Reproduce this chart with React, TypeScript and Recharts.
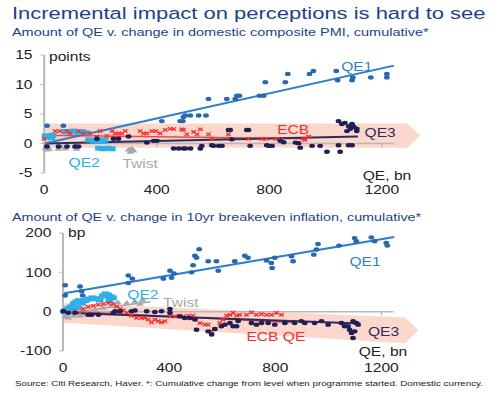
import React from "react"
import {
  ScatterChart,
  Scatter,
  XAxis,
  YAxis,
  ReferenceArea,
  ReferenceLine,
  ReferenceDot,
} from "recharts"

// the reference image is stretched sideways, so the whole page is laid out
// narrower and widened with scaleX
const STRETCH = 1.3
const PAGE_W = 385

const FONT = '"Liberation Sans", Arial, sans-serif'

const xTicks = [0, 400, 800, 1200]
const xDomain = [0, 1340]
const xAxisEnd = 1245

// ---- PMI panel ----
const pmiTicks = [-5, 0, 5, 10, 15]
const pmiQe1 = [
  [10, 3.0], [68, 3.0], [418, 3.8], [483, 3.8], [493, 3.8], [495, 4.5], [501, 4.75],
  [519, 4.75], [549, 4.75], [575, 4.75], [584, 7.55], [649, 7.55], [679, 7.55],
  [685, 8.1], [694, 8.1], [765, 8.1], [780, 8.1], [786, 10.4], [857, 10.4],
  [866, 11.8], [943, 11.8], [957, 12.3], [1038, 12.3], [1043, 10.7], [1094, 10.7],
  [1097, 11.2], [1161, 11.2], [1218, 11.8], [1218, 11.2],
]
const pmiQe1Line = [[0, 0], [1243, 13.2]]
const pmiQe3 = [
  [10, -0.5], [51, -0.5], [81, -0.5], [110, -0.5], [122, -0.5], [187, 0.8], [246, 0.8],
  [264, 0.8], [300, 1.2], [365, 0.15], [389, 0.45], [401, 0.45], [460, -0.85],
  [478, -0.85], [495, -0.85], [502, -0.85], [520, -0.85], [555, -0.85], [560, -0.4],
  [596, -0.3], [602, -0.4], [620, -0.4], [632, -0.4], [655, 2.3], [661, 2.3], [667, 0.7],
  [720, 2.3], [726, 2.3], [732, -0.4], [791, -0.3], [798, -0.4], [810, -0.4],
  [839, 0.45], [851, 0.2], [893, 0.15], [904, 0.05], [910, -0.7], [952, -0.4],
  [981, -0.4], [1005, -1.4], [1046, -0.3], [1052, -1.4], [1082, -0.3], [1094, -0.3],
  [1046, 3.8], [1058, 3.3], [1069, 3.5], [1082, 2.95], [1088, 2.5], [1094, 3.3],
  [1100, 2.85], [1111, 2.5], [1111, 2.1], [1076, 2.1],
]
const pmiQe3Line = [[0, 0], [1115, 1.2]]
const pmiEcb = [
  [0, 0.8], [39, 2.1], [55, 2.1], [81, 2.1], [92, 1.7], [122, 2.1], [140, 1.7],
  [161, 1.7], [187, 1.15], [199, 2.1], [223, 1.3], [241, 2.1], [252, 1.7], [264, 1.7],
  [276, 1.7], [288, 2.1], [341, 2.1], [353, 1.7], [365, 1.7], [383, 2.1], [397, 2.1],
  [412, 1.7], [430, 2.3], [448, 2.5], [460, 2.45], [489, 2.4], [495, 2.3], [507, 1.55],
  [531, 1.95], [543, 1.55], [555, 2.4], [584, 1.55], [596, 0.8], [655, 1.55], [661, 0.8],
  [726, 0.8], [774, 0.8], [791, 0.8], [821, 0.8], [839, 0.6], [922, 0.8], [927, 0.6],
  [940, 1.15],
]
const pmiEcbLine = [[0, 1.4], [935, 0.8]]
const pmiQe2 = [
  [5, 1.3], [15, 1.2], [25, 1.0], [30, 1.4], [75, 2.0], [90, 2.0], [105, 2.1],
  [120, 1.9], [135, 2.0], [150, 1.8], [160, 0.6], [175, 0.5], [190, 0.4], [205, 0.4],
  [215, 0.6], [195, -0.8], [210, -0.9], [225, -0.8], [240, -0.9],
]
const pmiTwist = [
  [4, -0.7], [10, -1.0], [18, -0.9], [50, -0.9], [60, -0.5], [75, -0.85], [110, -0.5],
  [115, -0.9], [156, 0.7], [199, 0.8], [215, 0.7], [300, -1.0], [306, -1.4],
  [311, -0.9], [318, -1.2],
]
const pmiBand = [[0, 3.4], [1290, 3.4], [1337, 1.35], [1290, -0.7], [0, -0.7]]

// ---- breakeven panel ----
const beTicks = [-100, -50, 0, 50, 100, 150, 200]
const beQe1 = [
  [8, 67], [8, 41], [64, 64], [70, 52], [74, 41], [246, 92], [246, 73], [261, 84],
  [378, 84], [403, 104], [409, 86], [418, 97], [484, 100], [490, 118], [497, 142],
  [503, 137], [513, 159], [547, 128], [578, 128], [585, 104], [647, 128], [685, 142],
  [697, 137], [767, 130], [785, 124], [788, 111], [798, 137], [861, 141], [867, 128],
  [945, 145], [955, 158], [961, 172], [1040, 168], [1099, 187], [1105, 179],
  [1162, 189], [1174, 179], [1218, 175], [1222, 168],
]
const beQe1Line = [[0, 46], [1248, 190]]
const beQe2 = [
  [5, 0], [12, 3], [20, 8], [30, 12], [40, 20], [50, 25], [60, 28], [72, 22], [85, 28],
  [95, 32], [110, 35], [125, 33], [138, 30], [150, 40], [160, 45], [170, 42], [180, 38],
  [188, 35], [175, 28], [30, 0], [55, 10],
]
const beTwist = [
  [8, -12], [20, -15], [40, -10], [64, -10], [90, -8], [120, 5], [150, 10], [180, 15],
  [207, 23], [240, 22], [270, 25], [290, 20], [300, 30],
]
const beTwistLine = [[0, -5], [330, 25]]
const beEcb = [
  [1, 2.5], [20, -2], [45, 1], [76, 7], [95, 12], [114, 15], [133, 18], [152, 20],
  [171, 22], [189, 20], [202, 13], [215, 7], [227, 3], [240, -3], [258, -10], [277, -16],
  [296, -16], [309, -16], [321, -20], [334, -27], [346, -20], [359, -24], [371, -27],
  [384, -24], [403, -12], [422, -12], [440, -10], [453, -12], [472, -10], [490, -10],
  [516, -29], [534, -33], [547, -33], [560, -50], [572, -44], [591, -29], [603, -20],
  [616, -10], [629, -8], [641, -3], [654, -10], [666, -8], [691, -8], [710, -2],
  [729, -8], [748, -6], [767, -8], [785, -8], [804, -3], [823, -8],
]
const beEcbLine = [[0, 2], [880, -28]]
const beQe3 = [
  [1, 1], [20, -3], [45, -3], [95, -8], [108, -8], [133, -8], [189, -3], [196, 1],
  [215, 1], [258, 1], [271, 3], [315, 1], [346, -1], [371, 1], [403, 7], [403, -3],
  [440, -12], [459, -16], [478, -16], [497, -20], [503, -46], [547, -50], [560, -58],
  [572, -44], [597, -37], [610, -33], [629, -29], [641, -37], [654, -37], [660, -24],
  [710, -29], [729, -33], [748, -29], [773, -29], [798, -33], [836, -29], [873, -29],
  [898, -24], [911, -29], [948, -29], [974, -24], [999, -33], [1049, -29], [1061, -37],
  [1074, -37], [1080, -46], [1087, -54], [1093, -67], [1093, -24], [1099, -50],
  [1105, -29], [1112, -33],
]
const beQe3Line = [[0, -3], [1120, -30]]
const beBand = [[0, 22], [1290, -15], [1338, -48], [1290, -80], [0, -28]]

const C = {
  qe1: "#2568b4",
  qe1Line: "#2f7fca",
  qe2: "#2bb0e8",
  twist: "#a8a8a8",
  ecb: "#ff2b2b",
  ecbLine: "#f04848",
  qe3: "#1d1f55",
  qe3Line: "#2c2c5e",
  band: "#fcd7cc",
  axis: "#b7b7b7",
  title: "#1c3f94",
  text: "#222",
}

const pmiTags = [
  { text: "QE1", x: 1111, y: 13.0, color: C.qe1Line },
  { text: "ECB", x: 885, y: 2.4, color: C.ecb },
  { text: "QE3", x: 1194, y: 1.9, color: C.qe3Line },
  { text: "QE2", x: 142, y: -3.2, color: C.qe2 },
  { text: "Twist", x: 341, y: -3.5, color: C.twist },
]
const beTags = [
  { text: "QE1", x: 1138, y: 127, color: C.qe1Line },
  { text: "QE2", x: 301, y: 43, color: C.qe2 },
  { text: "Twist", x: 444, y: 23, color: C.twist },
  { text: "ECB QE", x: 802, y: -64, color: C.ecb },
  { text: "QE3", x: 1208, y: -51, color: C.qe3Line },
]

const pts = (arr: number[][]) => arr.map(([x, y]) => ({ x, y }))

const dot = (color: string, r: number) => (p: any) =>
  <circle cx={p.cx} cy={p.cy} r={r} fill={color} />

const cross = (p: any) => {
  const d = 1.7
  return (
    <g stroke={C.ecb} strokeWidth={1.2}>
      <line x1={p.cx - d} y1={p.cy - d} x2={p.cx + d} y2={p.cy + d} />
      <line x1={p.cx - d} y1={p.cy + d} x2={p.cx + d} y2={p.cy - d} />
    </g>
  )
}

const square = (p: any) => <rect x={p.cx - 3} y={p.cy - 2.5} width={6} height={5} fill={C.qe2} />

const triangle = (p: any) => (
  <polygon
    points={`${p.cx},${p.cy - 3} ${p.cx + 3},${p.cy + 2} ${p.cx - 3},${p.cy + 2}`}
    fill={C.twist}
  />
)

// arrow-shaped band, drawn inside the reference area's rect so the polygon
// goes through the chart's scales
const bandBox = (poly: number[][]) => {
  const xs = poly.map((p) => p[0])
  const ys = poly.map((p) => p[1])
  return { x1: Math.min(...xs), x2: Math.max(...xs), y1: Math.min(...ys), y2: Math.max(...ys) }
}

const arrowShape = (poly: number[][]) => {
  const b = bandBox(poly)
  return (p: any) => {
    const points = poly
      .map(([dx, dy]) => {
        const px = p.x + ((dx - b.x1) / (b.x2 - b.x1)) * p.width
        const py = p.y + ((b.y2 - dy) / (b.y2 - b.y1)) * p.height
        return `${px},${py}`
      })
      .join(" ")
    return <polygon points={points} fill={C.band} />
  }
}

interface PanelProps {
  top: number
  yAxisWidth: number
  marginRight: number
  yTicks: number[]
  tickDrop: number
  band: number[][]
  tags: { text: string; x: number; y: number; color: string }[]
  qe1: number[][]
  qe1Line: number[][]
  qe2: number[][]
  twist: number[][]
  twistLine?: number[][]
  ecb: number[][]
  ecbLine: number[][]
  qe3: number[][]
  qe3Line: number[][]
}

function Panel(props: PanelProps) {
  const b = bandBox(props.band)
  const yDomain = [props.yTicks[0], props.yTicks[props.yTicks.length - 1]]
  const seg = (l: number[][]) => [{ x: l[0][0], y: l[0][1] }, { x: l[1][0], y: l[1][1] }]
  return (
    <div style={{ position: "absolute", left: 0, top: props.top }}>
      <ScatterChart
        width={PAGE_W}
        height={158}
        margin={{ top: 10, right: props.marginRight, bottom: 0, left: 0 }}
      >
        <XAxis
          type="number"
          dataKey="x"
          domain={xDomain}
          ticks={xTicks}
          axisLine={false}
          tickLine={false}
          tickSize={0}
          tickMargin={12}
          height={30}
          tick={{ fontSize: 12, fill: C.text, fontFamily: FONT }}
        />
        <YAxis
          type="number"
          dataKey="y"
          domain={yDomain}
          ticks={props.yTicks}
          width={props.yAxisWidth}
          tickSize={3}
          tickMargin={6}
          axisLine={{ stroke: C.axis, strokeWidth: 1.5 }}
          tickLine={{ stroke: C.axis }}
          tick={{ fontSize: 12, fill: C.text, fontFamily: FONT }}
        />
        <ReferenceArea x1={b.x1} x2={b.x2} y1={b.y1} y2={b.y2} shape={arrowShape(props.band)} />
        <ReferenceLine
          segment={[{ x: 0, y: 0 }, { x: xAxisEnd, y: 0 }]}
          stroke={C.axis}
          strokeWidth={1.5}
        />
        {xTicks.slice(1).map((t) => (
          <ReferenceLine
            key={t}
            segment={[{ x: t, y: 0 }, { x: t, y: -props.tickDrop }]}
            stroke={C.axis}
          />
        ))}
        <Scatter data={pts(props.twist)} shape={triangle} isAnimationActive={false} />
        <Scatter data={pts(props.qe2)} shape={square} isAnimationActive={false} />
        <Scatter data={pts(props.ecb)} shape={cross} isAnimationActive={false} />
        <Scatter data={pts(props.qe3)} shape={dot(C.qe3, 2.2)} isAnimationActive={false} />
        <Scatter data={pts(props.qe1)} shape={dot(C.qe1, 2.2)} isAnimationActive={false} />
        {props.twistLine && (
          <ReferenceLine segment={seg(props.twistLine)} stroke={C.twist} strokeWidth={1.5} />
        )}
        <ReferenceLine segment={seg(props.ecbLine)} stroke={C.ecbLine} strokeWidth={1.5} />
        <ReferenceLine segment={seg(props.qe3Line)} stroke={C.qe3Line} strokeWidth={2} />
        <ReferenceLine segment={seg(props.qe1Line)} stroke={C.qe1Line} strokeWidth={2} />
        {props.tags.map((t) => (
          <ReferenceDot
            key={t.text}
            x={t.x}
            y={t.y}
            r={0}
            fill="none"
            stroke="none"
            label={{ value: t.text, position: "center", fill: t.color, fontSize: 12, fontFamily: FONT }}
          />
        ))}
      </ScatterChart>
    </div>
  )
}

const txt = (left: number, centerY: number, size: number, color: string, anchor = "left"): React.CSSProperties => ({
  position: "absolute",
  left,
  top: centerY - size * 0.5,
  fontSize: size,
  lineHeight: `${size}px`,
  color,
  whiteSpace: "nowrap",
  transform: anchor === "center" ? "translateX(-50%)" : undefined,
})

export default function App() {
  return (
    <div
      style={{
        position: "absolute",
        left: 0,
        top: 0,
        width: PAGE_W,
        height: 396,
        background: "#fff",
        fontFamily: FONT,
        transform: `scaleX(${STRETCH})`,
        transformOrigin: "0 0",
        overflow: "hidden",
      }}
    >
      <div style={txt(9.2, 14, 16.9, C.title)}>Incremental impact on perceptions is hard to see</div>
      <div style={txt(9.2, 33, 11.15, C.title)}>
        Amount of QE v. change in domestic composite PMI, cumulative*
      </div>
      <Panel
        top={45}
        yAxisWidth={34}
        marginRight={61}
        yTicks={pmiTicks}
        tickDrop={0.67}
        band={pmiBand}
        tags={pmiTags}
        qe1={pmiQe1}
        qe1Line={pmiQe1Line}
        qe2={pmiQe2}
        twist={pmiTwist}
        ecb={pmiEcb}
        ecbLine={pmiEcbLine}
        qe3={pmiQe3}
        qe3Line={pmiQe3Line}
      />
      <div style={txt(37.7, 57, 12, C.text)}>points</div>
      <div style={txt(297.7, 176, 12, C.text, "center")}>QE, bn</div>

      <div style={txt(9.2, 218, 11.05, C.title)}>
        Amount of QE v. change in 10yr breakeven inflation, cumulative*
      </div>
      <Panel
        top={223}
        yAxisWidth={48.5}
        marginRight={63}
        yTicks={beTicks}
        tickDrop={10}
        band={beBand}
        tags={beTags}
        qe1={beQe1}
        qe1Line={beQe1Line}
        qe2={beQe2}
        twist={beTwist}
        twistLine={beTwistLine}
        ecb={beEcb}
        ecbLine={beEcbLine}
        qe3={beQe3}
        qe3Line={beQe3Line}
      />
      <div style={txt(52.3, 233, 12, C.text)}>bp</div>
      <div style={txt(294.6, 352, 12, C.text, "center")}>QE, bn</div>

      <div style={txt(11.5, 384, 7.5, C.text)}>
        Source: Citi Research, Haver. *: Cumulative change from level when programme started. Domestic currency.
      </div>
    </div>
  )
}
